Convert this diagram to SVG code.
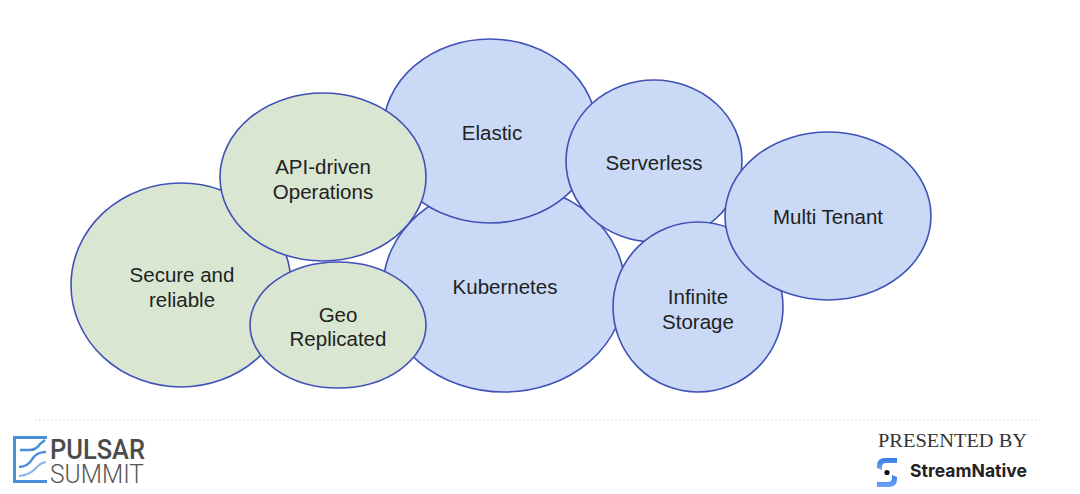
<svg xmlns="http://www.w3.org/2000/svg" width="1080" height="494" viewBox="0 0 1080 494">
<defs>
<style>
.blue{fill:#c9d9f6;stroke:#3f51b5;stroke-width:1.6}
.green{fill:#d9e6d2;stroke:#3f51b5;stroke-width:1.6}
.lbl{font-family:"Liberation Sans",Arial,sans-serif;font-size:20.5px;fill:#222;text-anchor:middle}
</style>
<linearGradient id="sn" x1="0" y1="0" x2="0" y2="1">
<stop offset="0" stop-color="#3a7bea"/><stop offset="1" stop-color="#6aa6f5"/>
</linearGradient>
</defs>
<rect width="1080" height="494" fill="#ffffff"/>
<g id="connectors"></g>
<g id="kubernetes"><ellipse class="blue" cx="504" cy="288" rx="121" ry="104"/><text class="lbl" x="505" y="294">Kubernetes</text></g>
<g id="elastic"><ellipse class="blue" cx="490" cy="131" rx="107" ry="92"/><text class="lbl" x="492" y="140">Elastic</text></g>
<g id="serverless"><ellipse class="blue" cx="654" cy="161" rx="88" ry="81"/><text class="lbl" x="654" y="170">Serverless</text></g>
<g id="infinite-storage"><ellipse class="blue" cx="698" cy="307" rx="85" ry="85"/><text class="lbl" x="698" y="304">Infinite</text><text class="lbl" x="698" y="329">Storage</text></g>
<g id="multi-tenant"><ellipse class="blue" cx="828" cy="216" rx="103" ry="84"/><text class="lbl" x="828" y="224">Multi Tenant</text></g>
<g id="secure-reliable"><ellipse class="green" cx="181" cy="285" rx="110" ry="102"/><text class="lbl" x="182" y="282">Secure and</text><text class="lbl" x="182" y="307">reliable</text></g>
<g id="api-driven"><ellipse class="green" cx="323" cy="177" rx="103" ry="84"/><text class="lbl" x="323" y="174">API-driven</text><text class="lbl" x="323" y="199">Operations</text></g>
<g id="geo-replicated"><ellipse class="green" cx="338" cy="325" rx="88" ry="63"/><text class="lbl" x="338" y="322">Geo</text><text class="lbl" x="338" y="346">Replicated</text></g>
<line x1="35" y1="420" x2="1040" y2="420" stroke="#cfcfcf" stroke-width="1.2" stroke-dasharray="1.5 2.5"/>
<g id="pulsar-summit-logo">
<path d="M47 437.5 L14.5 437.5 L14.5 481.5 L47 481.5" fill="none" stroke="#4a8edc" stroke-width="3"/>
<path d="M20 450 L30 450 Q36 450 40 444 L45 440" fill="none" stroke="#4a8edc" stroke-width="2.5"/>
<path d="M19 467 Q28 467 33 458 Q37 452 46 452" fill="none" stroke="#4a8edc" stroke-width="2.5"/>
<path d="M19 476 Q30 475 36 468 Q40 463 46 462" fill="none" stroke="#8ab6e8" stroke-width="2"/>
<text x="50" y="459" font-family="Roboto,'Liberation Sans',sans-serif" font-size="27" font-weight="500" fill="#4b4b4b" textLength="95" lengthAdjust="spacingAndGlyphs">PULSAR</text>
<text x="50" y="483" font-family="Roboto,'Liberation Sans',sans-serif" font-size="26" font-weight="300" fill="#555" textLength="94" lengthAdjust="spacingAndGlyphs">SUMMIT</text>
</g>
<g id="presented-by">
<text x="878" y="447" font-family="'Liberation Serif','Times New Roman',serif" font-size="19.5" fill="#333" textLength="149" lengthAdjust="spacingAndGlyphs">PRESENTED BY</text>
<path d="M897 458 L885 458 Q877 458 877 466 L877 468 L882 470 L882 467 Q882 463 886 463 L897 463 Z" fill="url(#sn)"/>
<path d="M877 487 L889 487 Q897 487 897 479 L897 477 L892 475 L892 478 Q892 482 888 482 L877 482 Z" fill="url(#sn)"/>
<circle cx="887" cy="472.5" r="2.6" fill="#111"/>
<text x="910" y="477" font-family="Inter,'Liberation Sans',sans-serif" font-size="18" font-weight="700" fill="#222" textLength="117" lengthAdjust="spacingAndGlyphs">StreamNative</text>
</g>
</svg>
